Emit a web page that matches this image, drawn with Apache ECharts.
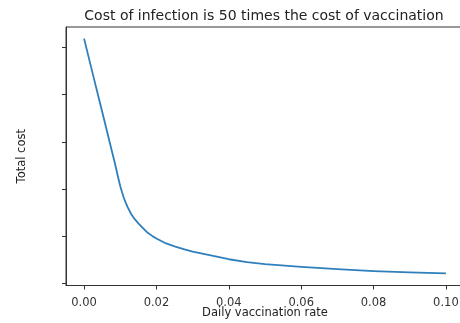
<!DOCTYPE html>
<html>
<head>
<meta charset="utf-8">
<script src="https://cdn.jsdelivr.net/npm/echarts@6/dist/echarts.min.js"></script>
<style>
  html, body { margin: 0; padding: 0; background: #fff; }
  #chart { width: 460px; height: 323px; }
</style>
</head>
<body>
<div id="chart"></div>
<script>
// Daily vaccination rate (x) and resulting total cost (arbitrary units)
const rate = [0, 0.0025, 0.005, 0.0065, 0.0075, 0.0085, 0.0093, 0.01, 0.0105, 0.011,
              0.0115, 0.012, 0.013, 0.014, 0.015, 0.016, 0.0175, 0.019, 0.02, 0.0225,
              0.025, 0.0275, 0.03, 0.035, 0.04, 0.045, 0.05, 0.06, 0.07, 0.08,
              0.09, 0.1];
const totalCost = [5.19, 4.41, 3.64, 3.17, 2.86, 2.55, 2.28, 2.06, 1.93, 1.81,
                   1.71, 1.62, 1.47, 1.36, 1.27, 1.19, 1.075, 0.995, 0.95, 0.85,
                   0.785, 0.725, 0.67, 0.59, 0.51, 0.45, 0.405, 0.35, 0.30, 0.26,
                   0.23, 0.21];
const xTicks = [0, 0.02, 0.04, 0.06, 0.08, 0.10];
const yTicks = [0, 1, 2, 3, 4, 5];

const FONT = 'DejaVu Sans';
const chart = echarts.init(document.getElementById('chart'), null, { renderer: 'canvas' });

chart.setOption({
  animation: false,
  backgroundColor: '#fff',
  title: {
    text: 'Cost of infection is 50 times the cost of vaccination',
    left: 259, top: 4, textAlign: 'center',
    textStyle: { fontFamily: FONT, fontSize: 14, fontWeight: 'normal', color: '#222' }
  },
  grid: {
    left: 66, top: 27, width: 398, height: 258.5,
    outerBoundsMode: 'none', containLabel: false,
    show: true, borderColor: '#333', borderWidth: 1, backgroundColor: 'transparent'
  },
  xAxis: {
    type: 'value', min: -0.005, max: 0.105,
    name: 'Daily vaccination rate', nameLocation: 'middle', nameGap: 22,
    nameMoveOverlap: false,
    nameTextStyle: { fontFamily: FONT, fontSize: 11.5, color: '#222' },
    axisLine: { show: true, onZero: false, lineStyle: { color: '#333', width: 1 } },
    axisTick: { show: true, customValues: xTicks, length: 4, lineStyle: { color: '#333' } },
    axisLabel: {
      customValues: xTicks, margin: 12,
      formatter: v => v.toFixed(2),
      fontFamily: FONT, fontSize: 11.5, color: '#333'
    },
    splitLine: { show: false }
  },
  yAxis: {
    type: 'value', min: -0.047, max: 5.436,
    name: 'Total cost', nameLocation: 'middle', nameGap: 38, nameRotate: 90,
    nameMoveOverlap: false,
    nameTextStyle: { fontFamily: FONT, fontSize: 11.5, color: '#222' },
    axisLine: { show: true, onZero: false, lineStyle: { color: '#333', width: 1 } },
    axisTick: { show: true, customValues: yTicks, length: 4, lineStyle: { color: '#333' } },
    axisLabel: { show: false },
    splitLine: { show: false }
  },
  series: [{
    type: 'line',
    data: rate.map((r, i) => [r, totalCost[i]]),
    showSymbol: false,
    smooth: false,
    lineStyle: { color: '#2f7fbc', width: 1.8, join: 'round' },
    itemStyle: { color: '#2f7fbc' }
  }]
});
</script>
</body>
</html>
